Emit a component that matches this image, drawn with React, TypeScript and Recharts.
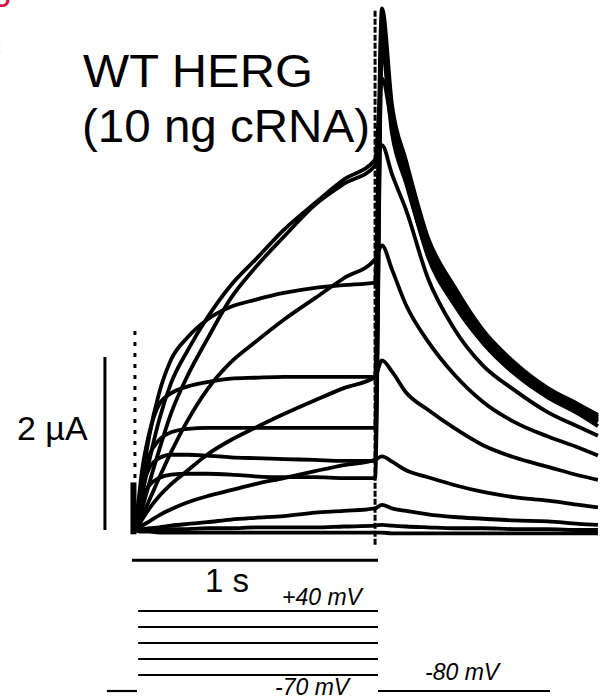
import { LineChart, Line, XAxis, YAxis } from 'recharts';

// sample times (s) shared by every sweep: activating step, then -80 mV tail
const sweepTimes = [
  0.012, 0.022, 0.041, 0.071, 0.11, 0.159, 0.227, 0.305, 0.402, 0.5, 0.617, 0.744, 0.861, 0.988,
  1.016, 1.057, 1.114, 1.203, 1.309, 1.427, 1.553, 1.691, 1.817, 1.894,
];

// membrane current (µA) for each sweep at sweepTimes
const sweep01 = [0, 0.17, 0.58, 1.1, 1.58, 1.97, 2.23, 2.43, 2.58, 2.66, 2.74, 2.8, 2.83, 2.86, 6.03, 4.91, 4.27, 3.38, 2.82, 2.31, 1.94, 1.64, 1.45, 1.33];
const sweep02 = [0, 0.23, 0.69, 1.13, 1.45, 1.58, 1.66, 1.71, 1.75, 1.76, 1.77, 1.77, 1.77, 1.77, 5.92, 4.84, 4.2, 3.33, 2.78, 2.28, 1.91, 1.62, 1.43, 1.31];
const sweep03 = [0, 0.21, 0.58, 0.87, 1.04, 1.13, 1.17, 1.18, 1.18, 1.18, 1.18, 1.18, 1.18, 1.18, 5.81, 4.76, 4.15, 3.28, 2.74, 2.25, 1.89, 1.6, 1.41, 1.29];
const sweep04 = [0, 0.21, 0.49, 0.72, 0.83, 0.87, 0.87, 0.86, 0.84, 0.83, 0.82, 0.81, 0.8, 0.8, 5.66, 4.66, 4.08, 3.23, 2.7, 2.22, 1.86, 1.58, 1.39, 1.27];
const sweep05 = [0, 0.17, 0.37, 0.52, 0.6, 0.64, 0.65, 0.65, 0.64, 0.62, 0.61, 0.61, 0.6, 0.6, 5.54, 4.58, 4.01, 3.19, 2.66, 2.19, 1.85, 1.56, 1.37, 1.25];
const sweep06 = [0, 0.12, 0.4, 0.81, 1.27, 1.7, 2.08, 2.45, 2.83, 3.12, 3.47, 3.78, 4.05, 4.28, 5.22, 4.68, 4.05, 3.16, 2.61, 2.16, 1.81, 1.53, 1.34, 1.2];
const sweep07 = [0, 0.07, 0.25, 0.55, 0.92, 1.35, 1.79, 2.2, 2.68, 3.03, 3.39, 3.76, 4.0, 4.21, 4.45, 4.11, 3.7, 2.91, 2.33, 1.9, 1.62, 1.36, 1.19, 1.09];
const sweep08 = [0, 0.05, 0.16, 0.35, 0.6, 0.9, 1.27, 1.62, 1.94, 2.17, 2.43, 2.68, 2.91, 3.13, 3.29, 3.01, 2.6, 2.18, 1.8, 1.48, 1.25, 1.08, 0.95, 0.86];
const sweep09 = [0, 0.03, 0.12, 0.25, 0.39, 0.53, 0.69, 0.87, 1.04, 1.18, 1.34, 1.5, 1.64, 1.77, 1.96, 1.83, 1.59, 1.39, 1.18, 0.98, 0.84, 0.73, 0.63, 0.58];
const sweep10 = [0, 0.01, 0.05, 0.1, 0.17, 0.24, 0.32, 0.39, 0.46, 0.53, 0.6, 0.68, 0.75, 0.81, 0.85, 0.79, 0.69, 0.61, 0.52, 0.44, 0.38, 0.34, 0.29, 0.26];
const sweep11 = [0, 0, 0.01, 0.02, 0.03, 0.05, 0.07, 0.09, 0.12, 0.14, 0.16, 0.2, 0.22, 0.25, 0.29, 0.25, 0.22, 0.18, 0.15, 0.13, 0.11, 0.1, 0.07, 0.06];
const sweep12 = [0, 0, 0, 0, 0.01, 0.01, 0.01, 0.02, 0.02, 0.03, 0.03, 0.03, 0.04, 0.05, 0.06, 0.05, 0.04, 0.03, 0.02, 0.02, 0.01, 0.01, 0, 0];
const sweep13 = [0, -0.01, -0.02, -0.02, -0.03, -0.03, -0.03, -0.03, -0.03, -0.03, -0.03, -0.03, -0.03, -0.03, -0.03, -0.04, -0.04, -0.04, -0.04, -0.04, -0.04, -0.04, -0.04, -0.04];

const sweeps = [sweep01, sweep02, sweep03, sweep04, sweep05, sweep06, sweep07, sweep08, sweep09, sweep10, sweep11, sweep12, sweep13];

// scale bars
const timeBar = [0, 1]; // s
const currentBar = [0, 2]; // µA

// voltage protocol, drawn schematically: step rows (top = +40, bottom = -70) and -80 holding
const stepRows = [4, 3, 2, 1, 0];
const holdRow = -1;
const stepStart = 0.025;
const stepEnd = 1.0;

// capacitive transients at the start and end of the step
const onsetTransient = [-0.05, 0.55];
const onsetDots = [0.6, 2.31];
const tailTransient = [-0.17, 6.01];

const W = 614;
const H = 699;
const T_DOMAIN: [number, number] = [-0.5366, 1.9593];
const I_DOMAIN: [number, number] = [-1.954, 6.127];
const ROW_DOMAIN: [number, number] = [-1.5, 42.1875];

const rows = sweepTimes.map((t, i) => {
  const row: Record<string, number> = { t };
  sweeps.forEach((s, k) => {
    row[`s${k}`] = s[i];
  });
  return row;
});

const seg = (t0: number, t1: number, v0: number, v1: number) => [
  { t: t0, v: v0 },
  { t: t1, v: v1 },
];

const font = '"Liberation Sans", Arial, Helvetica, sans-serif';

export default function App() {
  return (
    <div style={{ position: 'absolute', left: 0, top: 0, width: W, height: H, background: '#fff' }}>
      <LineChart width={W} height={H} data={rows} margin={{ top: 0, right: 0, bottom: 0, left: 0 }}>
        <XAxis dataKey="t" type="number" domain={T_DOMAIN} allowDataOverflow hide />
        <YAxis yAxisId="i" type="number" domain={I_DOMAIN} allowDataOverflow hide />
        <YAxis yAxisId="row" type="number" domain={ROW_DOMAIN} allowDataOverflow hide />

        {/* step transients */}
        <Line yAxisId="i" data={seg(0.006, 0.006, onsetTransient[0], onsetTransient[1])} dataKey="v"
          stroke="#000" strokeWidth={6} dot={false} activeDot={false} isAnimationActive={false} />
        <Line yAxisId="i" data={seg(0.012, 0.012, onsetDots[0], onsetDots[1])} dataKey="v"
          stroke="#000" strokeWidth={3} strokeDasharray="4 7" dot={false} activeDot={false} isAnimationActive={false} />
        <Line yAxisId="i" data={seg(0.988, 0.988, tailTransient[0], tailTransient[1])} dataKey="v"
          stroke="#000" strokeWidth={3} strokeDasharray="6 2" dot={false} activeDot={false} isAnimationActive={false} />

        {/* current sweeps */}
        {sweeps.map((_, k) => (
          <Line key={k} yAxisId="i" dataKey={`s${k}`} type="monotone" stroke="#000" strokeWidth={3.8}
            dot={false} activeDot={false} isAnimationActive={false} />
        ))}

        {/* scale bars */}
        <Line yAxisId="i" data={seg(timeBar[0], timeBar[1], -0.35, -0.35)} dataKey="v"
          stroke="#000" strokeWidth={3} dot={false} activeDot={false} isAnimationActive={false} />
        <Line yAxisId="i" data={seg(-0.11, -0.11, currentBar[0], currentBar[1])} dataKey="v"
          stroke="#000" strokeWidth={3} dot={false} activeDot={false} isAnimationActive={false} />

        {/* voltage protocol */}
        {stepRows.map((r) => (
          <Line key={`step${r}`} yAxisId="row" data={seg(stepStart, stepEnd, r, r)} dataKey="v"
            stroke="#000" strokeWidth={2.2} dot={false} activeDot={false} isAnimationActive={false} />
        ))}
        <Line yAxisId="row" data={seg(-0.102, 0.02, holdRow, holdRow)} dataKey="v"
          stroke="#000" strokeWidth={2.2} dot={false} activeDot={false} isAnimationActive={false} />
        <Line yAxisId="row" data={seg(stepEnd, 1.699, holdRow, holdRow)} dataKey="v"
          stroke="#000" strokeWidth={2.2} dot={false} activeDot={false} isAnimationActive={false} />
      </LineChart>

      <svg width={W} height={H} style={{ position: 'absolute', left: 0, top: 0, pointerEvents: 'none' }}>
        <g fontFamily={font} fill="#d4113c">
          <text x={-8} y={-1} fontSize={36}>g</text>
          <text x={-14} y={57} fontSize={30}>c</text>
        </g>
        <g fontFamily={font} fill="#000">
          <text x={83} y={87} fontSize={47} textLength={230} lengthAdjust="spacingAndGlyphs">WT HERG</text>
          <text x={82} y={142} fontSize={47} textLength={288} lengthAdjust="spacingAndGlyphs">(10 ng cRNA)</text>
          <text x={17} y={440} fontSize={34}>2 µA</text>
          <text x={205} y={592} fontSize={33}>1 s</text>
          <text x={282} y={605} fontSize={23} fontStyle="italic">+40 mV</text>
          <text x={275} y={695} fontSize={23} fontStyle="italic">-70 mV</text>
          <text x={425} y={680} fontSize={23} fontStyle="italic">-80 mV</text>
        </g>
      </svg>
    </div>
  );
}
